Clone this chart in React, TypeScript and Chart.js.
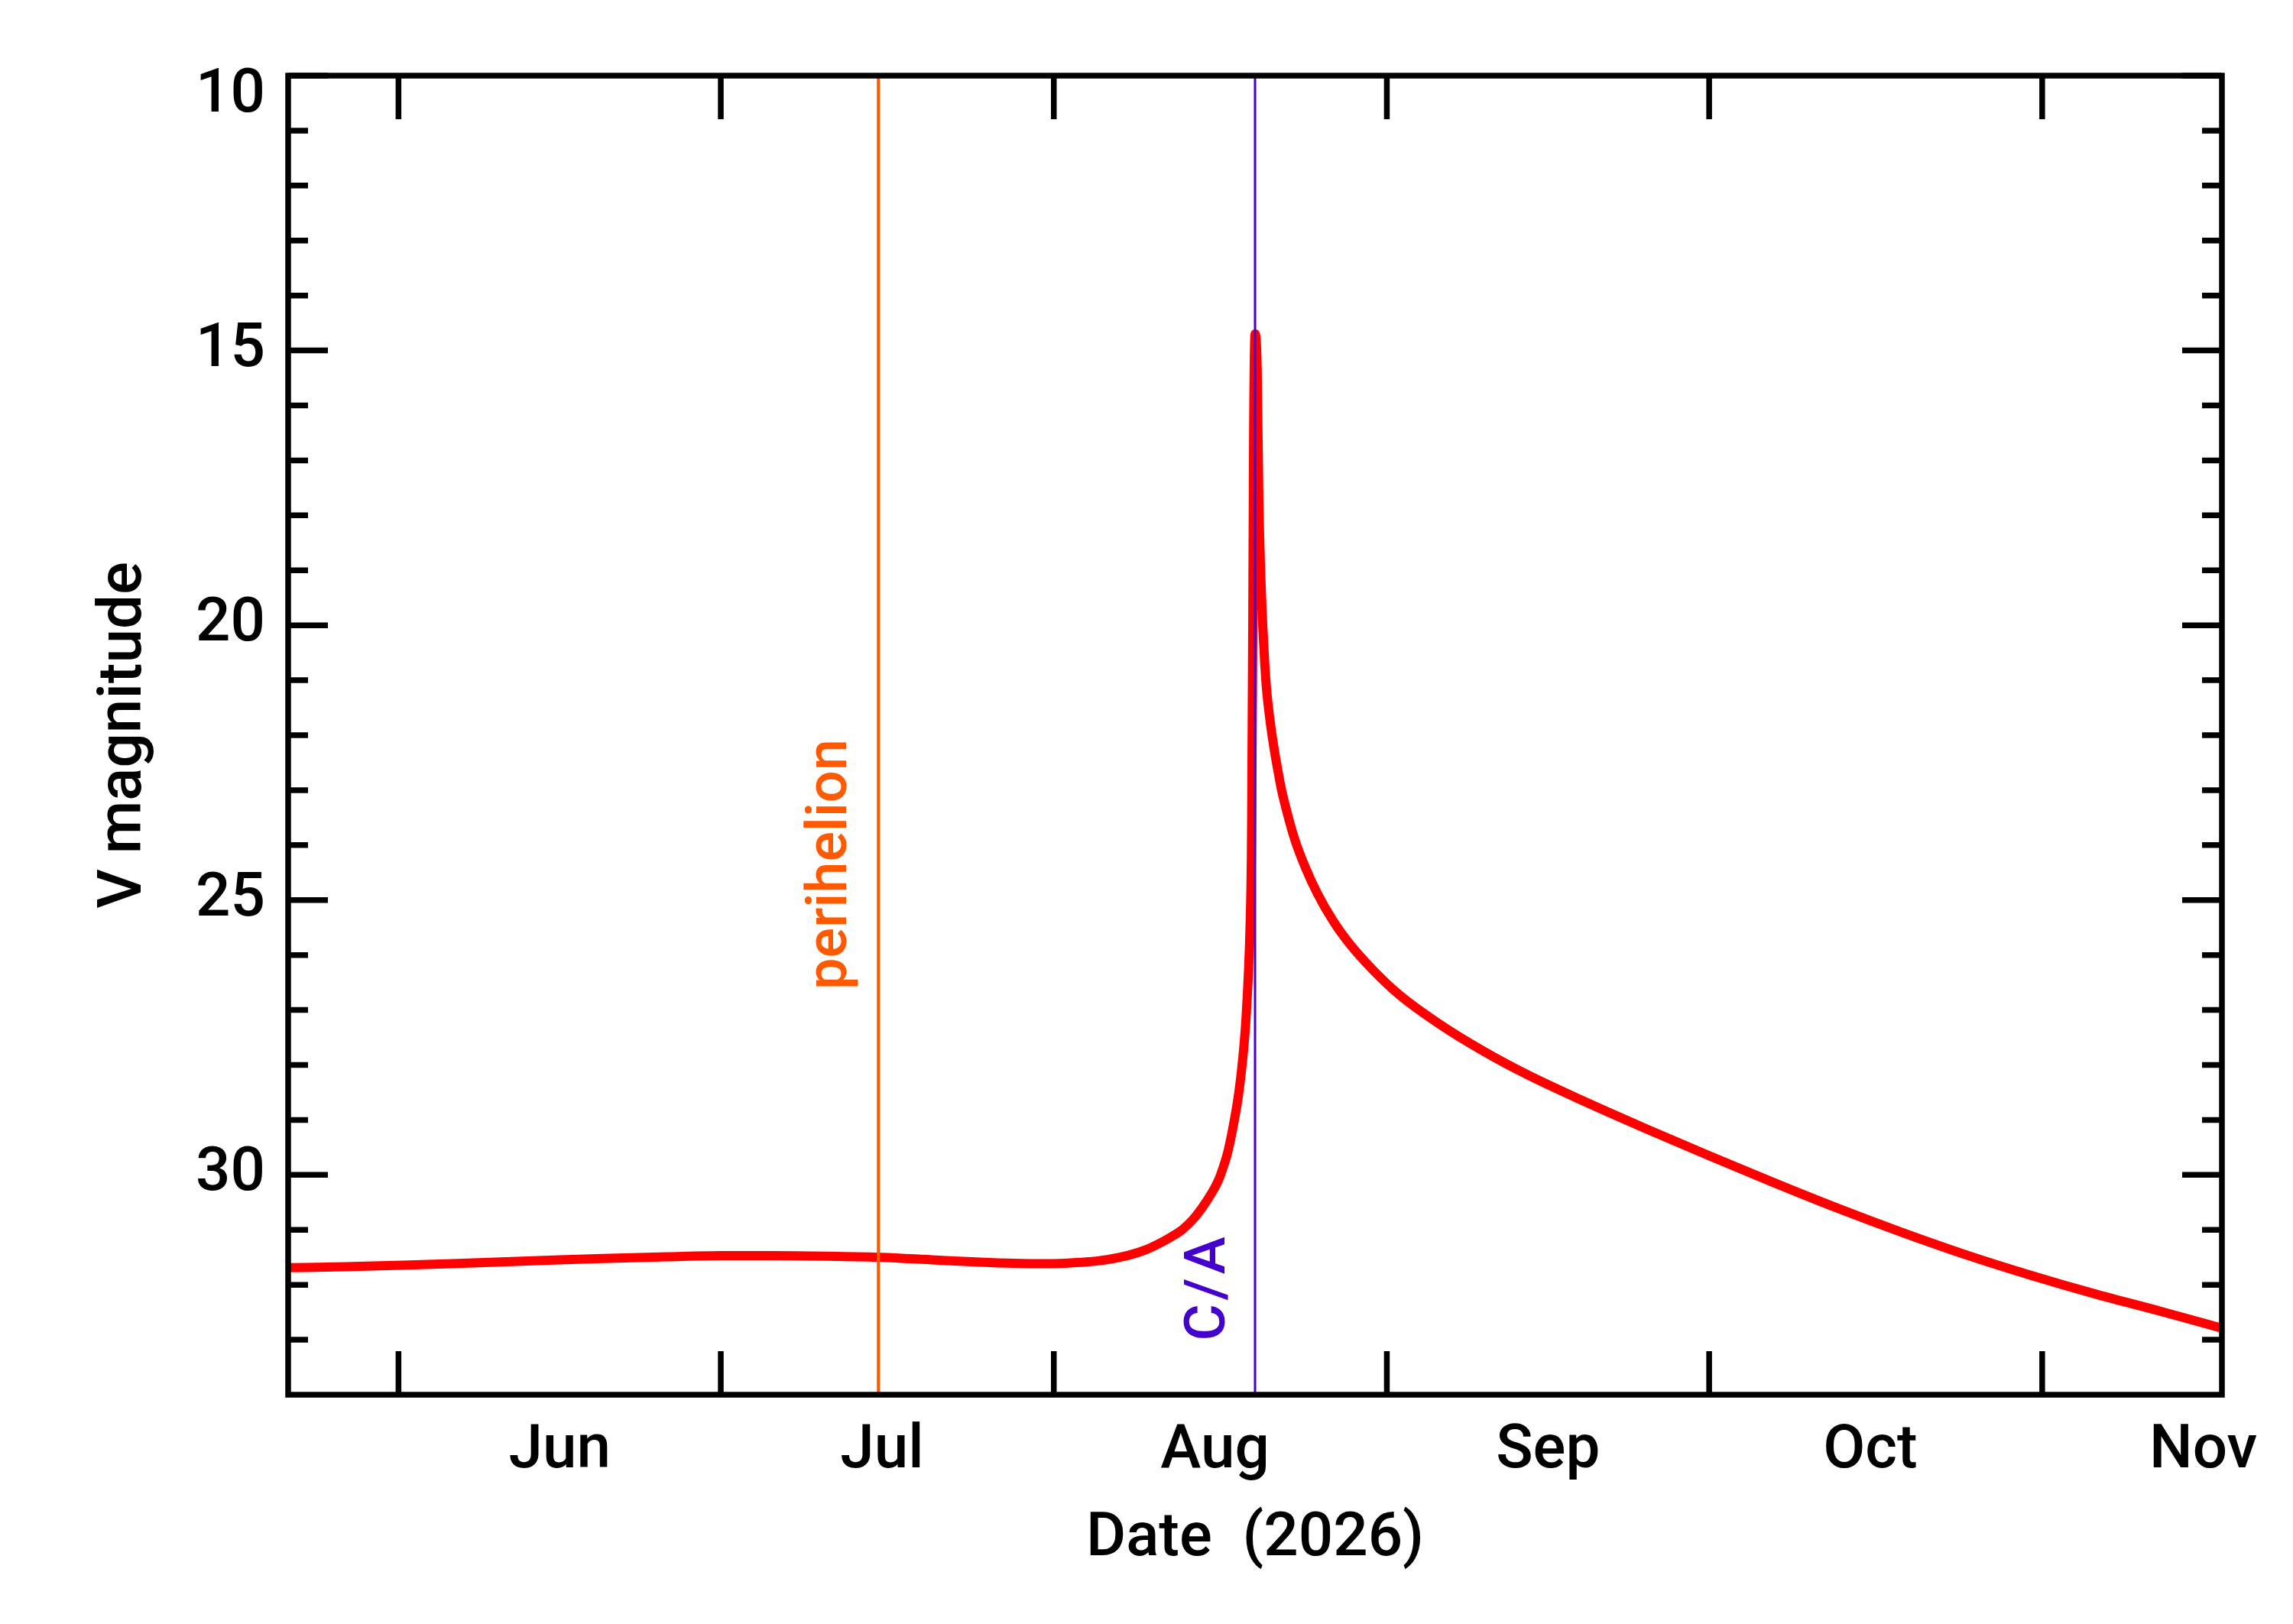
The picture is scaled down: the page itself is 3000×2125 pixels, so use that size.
import { useEffect, useRef } from 'react';
import { Chart, LineController, LineElement, PointElement, LinearScale } from 'chart.js';

Chart.register(LineController, LineElement, PointElement, LinearScale);

// x values are days since 2026-01-01 00:00 UT (Jun 1 = 151)
const X_MIN = 140.73;
const X_MAX = 320.73;
const Y_MIN = 10;
const Y_MAX = 34;

const MONTH_START_DAYS = [151, 181, 212, 243, 273, 304];
const MONTH_LABEL_DAYS = [166, 196, 227, 258, 288, 319];
const MONTH_LABELS = ['Jun', 'Jul', 'Aug', 'Sep', 'Oct', 'Nov'];

const MAG_LABELS = [10, 15, 20, 25, 30];
const MAG_MINOR = [11, 12, 13, 14, 16, 17, 18, 19, 21, 22, 23, 24, 26, 27, 28, 29, 31, 32, 33];

const PERIHELION_DAY = 195.67;
const CLOSE_APPROACH_DAY = 230.73;

// V magnitude curve
const DAYS = [
  140.73, 146, 152, 158, 164, 170, 176, 181, 186, 191, 196, 201, 206, 209, 211,
  213, 215, 217, 219, 220.6, 222, 223, 224, 225, 225.8, 226.7, 227.2, 227.58,
  228.2, 228.76, 229.15, 229.46, 229.7, 229.88, 230.02, 230.13, 230.22, 230.29,
  230.35, 230.39, 230.42, 230.52, 230.6, 230.73, 230.93, 231.08, 231.25, 231.44,
  231.62, 231.8, 232.1, 232.46, 232.8, 233.17, 233.8, 234.45, 235.4, 236.51, 238,
  239.55, 241.7, 244.2, 248, 252, 256, 261, 267, 273, 279, 285, 291, 297, 303,
  309, 315, 320.73,
];
const V_MAG = [
  31.69, 31.67, 31.64, 31.6, 31.56, 31.52, 31.49, 31.47, 31.47, 31.48, 31.5,
  31.55, 31.595, 31.612, 31.615, 31.607, 31.585, 31.54, 31.46, 31.36, 31.23,
  31.12, 30.99, 30.8, 30.6, 30.33, 30.15, 29.97, 29.58, 29.05, 28.6, 28.12,
  27.65, 27.19, 26.7, 26.26, 25.8, 25.33, 24.8, 24.2, 23.43, 19.97, 16.5, 14.7,
  15.35, 17.66, 19.0, 19.97, 20.65, 21.16, 21.69, 22.19, 22.58, 22.97, 23.47,
  23.91, 24.4, 24.87, 25.38, 25.8, 26.27, 26.73, 27.27, 27.75, 28.17, 28.63,
  29.15, 29.65, 30.14, 30.61, 31.05, 31.46, 31.83, 32.17, 32.48, 32.79,
];

const FONT_FAMILY = 'Roboto, "Liberation Sans", Arial, sans-serif';
const FONT_WEIGHT = 500;
const ORANGE = '#ff5a00';
const PURPLE = '#4400cc';

// IDL-style box with inward ticks on all four sides plus event labels
const framePlugin = {
  id: 'idlFrame',
  afterDatasetsDraw(chart: any) {
    const { ctx, chartArea, scales } = chart;
    const { left, right, top, bottom } = chartArea;
    const x = scales.x;
    const y = scales.y;
    ctx.save();
    ctx.strokeStyle = '#000';
    ctx.lineWidth = 7.5;
    ctx.lineCap = 'butt';
    ctx.beginPath();
    for (const d of MONTH_START_DAYS) {
      const px = x.getPixelForValue(d);
      ctx.moveTo(px, bottom);
      ctx.lineTo(px, bottom - 57);
      ctx.moveTo(px, top);
      ctx.lineTo(px, top + 57);
    }
    for (const m of MAG_LABELS) {
      const py = y.getPixelForValue(m);
      ctx.moveTo(left, py);
      ctx.lineTo(left + 52, py);
      ctx.moveTo(right, py);
      ctx.lineTo(right - 52, py);
    }
    for (const m of MAG_MINOR) {
      const py = y.getPixelForValue(m);
      ctx.moveTo(left, py);
      ctx.lineTo(left + 26, py);
      ctx.moveTo(right, py);
      ctx.lineTo(right - 26, py);
    }
    ctx.stroke();
    ctx.lineJoin = 'miter';
    ctx.strokeRect(left, top, right - left, bottom - top);

    // rotated event labels
    const labels = [
      { text: 'perihelion', day: PERIHELION_DAY, color: ORANGE, mag: 26.63, gap: 42, spacing: 0 },
      { text: 'C/A', day: CLOSE_APPROACH_DAY, color: PURPLE, mag: 33.02, gap: 40, spacing: 5 },
    ];
    ctx.font = `${FONT_WEIGHT} 74px ${FONT_FAMILY}`;
    ctx.textAlign = 'left';
    ctx.textBaseline = 'alphabetic';
    for (const l of labels) {
      ctx.save();
      ctx.letterSpacing = `${l.spacing}px`;
      ctx.translate(x.getPixelForValue(l.day) - l.gap, y.getPixelForValue(l.mag));
      ctx.rotate(-Math.PI / 2);
      ctx.fillStyle = l.color;
      ctx.fillText(l.text, 0, 0);
      ctx.restore();
    }
    ctx.restore();
  },
};

export default function App() {
  const canvasRef = useRef<HTMLCanvasElement>(null);

  useEffect(() => {
    if (!canvasRef.current) return;

    const axisFont = { family: FONT_FAMILY, size: 80, weight: FONT_WEIGHT };

    const chart = new Chart(canvasRef.current, {
      type: 'line',
      data: {
        datasets: [
          {
            label: 'perihelion',
            data: [
              { x: PERIHELION_DAY, y: Y_MIN },
              { x: PERIHELION_DAY, y: Y_MAX },
            ],
            borderColor: ORANGE,
            borderWidth: 4,
            pointRadius: 0,
            order: 0,
          },
          {
            label: 'C/A',
            data: [
              { x: CLOSE_APPROACH_DAY, y: Y_MIN },
              { x: CLOSE_APPROACH_DAY, y: Y_MAX },
            ],
            borderColor: PURPLE,
            borderWidth: 3,
            pointRadius: 0,
            order: 0,
          },
          {
            label: 'V magnitude',
            data: DAYS.map((d, i) => ({ x: d, y: V_MAG[i] })),
            borderColor: '#ff0000',
            borderWidth: 12,
            pointRadius: 0,
            cubicInterpolationMode: 'monotone',
            order: 1,
          },
        ],
      },
      options: {
        animation: false,
        responsive: false,
        devicePixelRatio: 1,
        events: [],
        layout: { padding: { left: 0, top: 99, right: 93, bottom: 0 } },
        scales: {
          x: {
            type: 'linear',
            min: X_MIN,
            max: X_MAX,
            afterBuildTicks: (s: any) => {
              s.ticks = MONTH_LABEL_DAYS.map((v) => ({ value: v }));
            },
            afterFit: (s: any) => {
              s.height = 300;
            },
            ticks: {
              autoSkip: false,
              maxRotation: 0,
              padding: 27,
              color: '#000',
              font: axisFont,
              callback: (v: any) => MONTH_LABELS[MONTH_LABEL_DAYS.indexOf(Number(v))],
            },
            grid: { display: false, drawTicks: false },
            border: { display: false },
            title: {
              display: true,
              text: 'Date  (2026)',
              color: '#000',
              font: axisFont,
              padding: { top: 0, bottom: 62 },
            },
          },
          y: {
            type: 'linear',
            reverse: true,
            min: Y_MIN,
            max: Y_MAX,
            afterBuildTicks: (s: any) => {
              s.ticks = MAG_LABELS.map((v) => ({ value: v }));
            },
            afterFit: (s: any) => {
              s.width = 377;
            },
            ticks: {
              autoSkip: false,
              padding: 30,
              color: '#000',
              font: { family: FONT_FAMILY, size: 80, weight: FONT_WEIGHT, lineHeight: 0.675 },
              // the top label sits just under the frame, as in the original
              callback: (v: any) => (Number(v) === Y_MIN ? ['', String(v)] : String(v)),
            },
            grid: { display: false, drawTicks: false },
            border: { display: false },
            title: {
              display: true,
              text: 'V magnitude',
              color: '#000',
              font: axisFont,
              padding: { top: 116, bottom: 0 },
            },
          },
        },
      },
      plugins: [framePlugin],
    } as any);

    return () => {
      chart.destroy();
    };
  }, []);

  return (
    <div style={{ position: 'absolute', left: 0, top: 0, width: 3000, height: 2125, background: '#fff' }}>
      <canvas ref={canvasRef} width={3000} height={2125} style={{ display: 'block' }} />
    </div>
  );
}
